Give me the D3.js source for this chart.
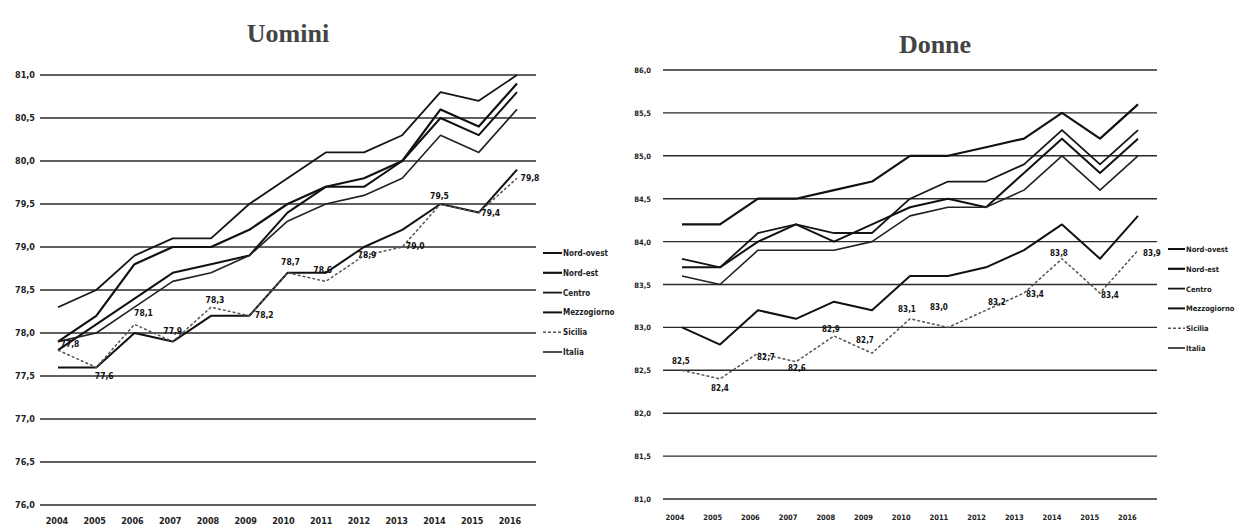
<!DOCTYPE html>
<html><head><meta charset="utf-8">
<script src="https://cdn.jsdelivr.net/npm/d3@7/dist/d3.min.js"></script>
<style>
html,body{margin:0;padding:0;background:#fff;}
svg{display:block;}
.tick-lab{font-family:"Liberation Sans Narrow","DejaVu Sans Condensed",sans-serif;font-weight:bold;fill:#222;}
.val-lab{font-family:"Liberation Sans Narrow","DejaVu Sans Condensed",sans-serif;font-weight:bold;fill:#111;}
.title{font-family:"Liberation Serif","DejaVu Serif",serif;font-weight:bold;fill:#444;}
.leg{font-family:"Liberation Sans Narrow","DejaVu Sans Condensed",sans-serif;font-weight:bold;fill:#222;}
</style>
</head><body>
<svg id="c" width="1241" height="528"></svg>
<script>
// ---------------- DATA ----------------
const years = [2004,2005,2006,2007,2008,2009,2010,2011,2012,2013,2014,2015,2016];
const seriesNames = ["Nord-ovest","Nord-est","Centro","Mezzogiorno","Sicilia","Italia"];

// Uomini (speranza di vita alla nascita, maschi)
const uominiNordOvest   = [77.8,78.1,78.4,78.7,78.8,78.9,79.4,79.7,79.7,80.0,80.5,80.3,80.8];
const uominiNordEst     = [77.9,78.2,78.8,79.0,79.0,79.2,79.5,79.7,79.8,80.0,80.6,80.4,80.9];
const uominiCentro      = [78.3,78.5,78.9,79.1,79.1,79.5,79.8,80.1,80.1,80.3,80.8,80.7,81.0];
const uominiMezzogiorno = [77.6,77.6,78.0,77.9,78.2,78.2,78.7,78.7,79.0,79.2,79.5,79.4,79.9];
const uominiSicilia     = [77.8,77.6,78.1,77.9,78.3,78.2,78.7,78.6,78.9,79.0,79.5,79.4,79.8];
const uominiItalia      = [77.9,78.0,78.3,78.6,78.7,78.9,79.3,79.5,79.6,79.8,80.3,80.1,80.6];

// Donne (speranza di vita alla nascita, femmine)
const donneNordOvest   = [83.7,83.7,84.0,84.2,84.0,84.2,84.4,84.5,84.4,84.8,85.2,84.8,85.2];
const donneNordEst     = [84.2,84.2,84.5,84.5,84.6,84.7,85.0,85.0,85.1,85.2,85.5,85.2,85.6];
const donneCentro      = [83.8,83.7,84.1,84.2,84.1,84.1,84.5,84.7,84.7,84.9,85.3,84.9,85.3];
const donneMezzogiorno = [83.0,82.8,83.2,83.1,83.3,83.2,83.6,83.6,83.7,83.9,84.2,83.8,84.3];
const donneSicilia     = [82.5,82.4,82.7,82.6,82.9,82.7,83.1,83.0,83.2,83.4,83.8,83.4,83.9];
const donneItalia      = [83.6,83.5,83.9,83.9,83.9,84.0,84.3,84.4,84.4,84.6,85.0,84.6,85.0];

const uominiTicks = [76.0,76.5,77.0,77.5,78.0,78.5,79.0,79.5,80.0,80.5,81.0];
const donneTicks  = [81.0,81.5,82.0,82.5,83.0,83.5,84.0,84.5,85.0,85.5,86.0];

const labelledSeries = "Sicilia";

// ---------------- STYLE / LAYOUT ----------------
const styles = {
  "Nord-ovest": {stroke:"#111", w:2.0, dash:null},
  "Nord-est":   {stroke:"#111", w:2.2, dash:null},
  "Centro":     {stroke:"#151515", w:1.8, dash:null},
  "Mezzogiorno":{stroke:"#111", w:2.0, dash:null},
  "Sicilia":    {stroke:"#555", w:1.5, dash:"3,2"},
  "Italia":     {stroke:"#222", w:1.6, dash:null}
};
// offsets of value labels relative to their point (placement only)
const uominiLabOff = [[12,-3],[8,12],[9,-8],[0,-8],[4,-4],[15,2],[3,-8],[-3,-8],[3,2],[13,2],[-1,-5],[12,3],[13,3]];
const donneLabOff  = [[-1,-6],[0,12],[8,7],[1,9],[-3,-4],[-7,-10],[-3,-7],[-9,-17],[11,-5],[11,4],[-3,-3],[10,5],[14,6]];

const svg = d3.select("#c");
const fmt = v => d3.format(".1f")(v).replace(".", ",");

function drawChart(cfg){
  const g = svg.append("g");
  const x = d3.scaleLinear().domain([years[0], years[years.length-1]]).range(cfg.xr);
  const y = d3.scaleLinear().domain([cfg.ticks[0], cfg.ticks[cfg.ticks.length-1]]).range(cfg.yr);

  // gridlines
  g.selectAll("line.grid").data(cfg.ticks).enter().append("line")
    .attr("x1", cfg.gx[0]).attr("x2", cfg.gx[1])
    .attr("y1", d=>y(d)).attr("y2", d=>y(d))
    .attr("stroke", "#2a2a2a").attr("stroke-width", 1.4);

  // y tick labels
  g.selectAll("text.yl").data(cfg.ticks).enter().append("text")
    .attr("class","tick-lab")
    .attr("x", cfg.ylx).attr("y", d=>y(d)+3)
    .attr("text-anchor","end").attr("font-size", cfg.fs)
    .text(fmt);

  // x tick labels
  g.selectAll("text.xl").data(years).enter().append("text")
    .attr("class","tick-lab")
    .attr("x", (d,i)=>x(d)+cfg.xlOff(i)).attr("y", cfg.xly)
    .attr("text-anchor","middle").attr("font-size", cfg.fs)
    .text(d=>d);

  // lines
  const line = d3.line().x((d,i)=>x(years[i])).y(d=>y(d));
  seriesNames.forEach((name, si) => {
    const s = styles[name];
    g.append("path").datum(cfg.data[si])
      .attr("d", line).attr("fill","none")
      .attr("stroke", s.stroke).attr("stroke-width", s.w)
      .attr("stroke-dasharray", s.dash)
      .attr("stroke-linejoin","round");
  });

  // value labels for Sicilia
  const li = seriesNames.indexOf(labelledSeries);
  g.selectAll("text.vl").data(cfg.data[li]).enter().append("text")
    .attr("class","val-lab")
    .attr("x", (d,i)=>x(years[i]) + cfg.labOff[i][0])
    .attr("y", (d,i)=>y(d) + cfg.labOff[i][1])
    .attr("text-anchor","middle").attr("font-size", cfg.vfs)
    .text(fmt);

  // legend
  const lg = g.append("g");
  seriesNames.forEach((name, i) => {
    const s = styles[name];
    const yy = cfg.leg.y + i*cfg.leg.dy;
    lg.append("line").attr("x1", cfg.leg.x).attr("x2", cfg.leg.x + cfg.leg.len)
      .attr("y1", yy).attr("y2", yy)
      .attr("stroke", s.stroke).attr("stroke-width", s.w)
      .attr("stroke-dasharray", s.dash);
    lg.append("text").attr("class","leg")
      .attr("x", cfg.leg.x + cfg.leg.len + 1).attr("y", yy + 3)
      .attr("font-size", cfg.leg.fs).text(name);
  });

  // title
  g.append("text").attr("class","title")
    .attr("x", cfg.title.x).attr("y", cfg.title.y)
    .attr("text-anchor","middle").attr("font-size", 26)
    .text(cfg.title.text);
}

drawChart({
  data:[uominiNordOvest,uominiNordEst,uominiCentro,uominiMezzogiorno,uominiSicilia,uominiItalia],
  ticks: uominiTicks,
  xr:[58,517], yr:[505,75], gx:[40,536],
  ylx:35, xly:524, fs:9, vfs:8.5,
  xlOff: i => -1 - i*0.5,
  labOff: uominiLabOff,
  leg:{x:543, y:253, dy:19.8, len:19, fs:8},
  title:{x:288, y:42, text:"Uomini"}
});

drawChart({
  data:[donneNordOvest,donneNordEst,donneCentro,donneMezzogiorno,donneSicilia,donneItalia],
  ticks: donneTicks,
  xr:[682,1138], yr:[499,70], gx:[663,1157],
  ylx:651, xly:520, fs:7.5, vfs:8,
  xlOff: i => -7 - i*0.3,
  labOff: donneLabOff,
  leg:{x:1168, y:249, dy:19.8, len:17, fs:7.5},
  title:{x:935, y:53, text:"Donne"}
});
</script>
</body></html>
